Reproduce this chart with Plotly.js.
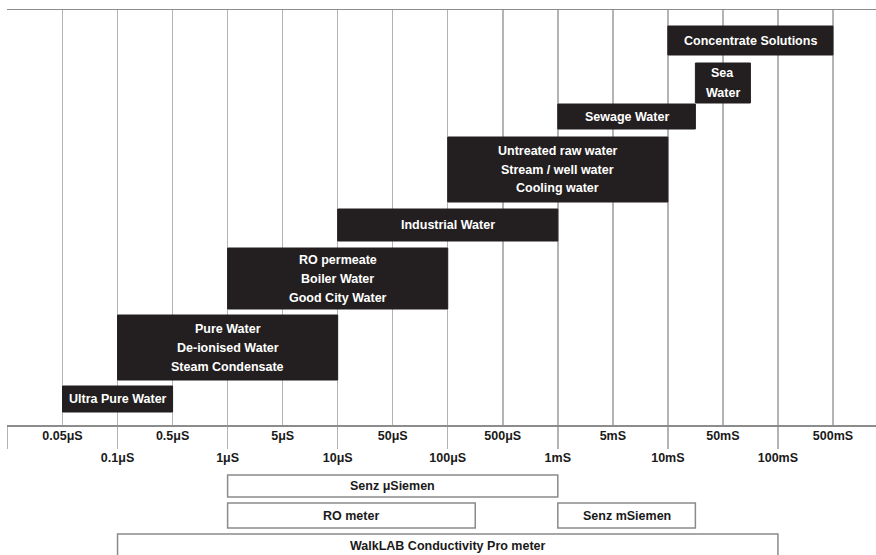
<!DOCTYPE html>
<html>
<head>
<meta charset="utf-8">
<script src="https://cdn.plot.ly/plotly-3.0.1.min.js"></script>
<style>
html,body{margin:0;padding:0;background:#fff;}
#chart{width:876px;height:555px;}
</style>
</head>
<body>
<div id="chart"></div>
<script>
// Conductivity scale: evenly spaced tick positions (axis units = tick index)
const tickLabels = ['', '0.05μS', '0.1μS', '0.5μS', '1μS', '5μS', '10μS', '50μS', '100μS',
                    '500μS', '1mS', '5mS', '10mS', '50mS', '100mS', '500mS'];

// Water types and their conductivity spans (in tick-index units)
const waterTypes = [
  'Ultra Pure Water',
  'Pure Water<br>De-ionised Water<br>Steam Condensate',
  'RO permeate<br>Boiler Water<br>Good City Water',
  'Industrial Water',
  'Untreated raw water<br>Stream / well water<br>Cooling water',
  'Sewage Water',
  'Sea<br>Water',
  'Concentrate Solutions'
];
const waterFrom = [1, 2, 4, 6, 8, 10, 12.5, 12];
const waterTo   = [3, 6, 8, 10, 12, 12.5, 13.5, 15];

// Meters and their measuring spans (tick-index units)
const meters    = ['Senz μSiemen', 'RO meter', 'Senz mSiemen', 'WalkLAB Conductivity Pro meter'];
const meterFrom = [4, 4, 10, 2];
const meterTo   = [10, 8.5, 12.5, 14];

// ---- layout (pixel rows, not data) ----
const waterRows = [[386, 412], [315, 380], [248, 309], [209, 241], [137, 202], [104, 129], [63, 103], [26, 55]];
const meterRows = [[475, 497], [503, 528], [503, 528], [534, 575]];

const W = 876, H = 555, T = 10, B = 130, L = 7;
const plotH = H - T - B;
const py = Y => (H - B - Y) / plotH;
const LINE = 19;

const FONT = 'Liberation Sans, Arial, sans-serif';
const FS = 12.5;
const GRID = '#b4b4b4';
const BOX = '#231f20';

const idx = tickLabels.map((_, i) => i);
const lowerVals = idx.filter(i => i % 2 === 0);
const upperVals = idx.filter(i => i % 2 === 1);

const shapes = [];
const annotations = [];

function addLabel(text, xc, yc, color) {
  const lines = text.split('<br>');
  lines.forEach((ln, k) => {
    const yy = yc + (k - (lines.length - 1) / 2) * LINE;
    annotations.push({xref: 'x', yref: 'paper', x: xc, y: py(yy), text: ln,
      showarrow: false, xanchor: 'center', yanchor: 'middle',
      font: {family: FONT, size: FS, color: color, weight: 'bold'}});
  });
}

waterTypes.forEach((name, i) => {
  const [y0, y1] = waterRows[i];
  shapes.push({type: 'rect', xref: 'x', yref: 'paper', x0: waterFrom[i], x1: waterTo[i],
    y0: py(y1), y1: py(y0), fillcolor: BOX, line: {color: BOX, width: 1}, layer: 'above'});
  addLabel(name, (waterFrom[i] + waterTo[i]) / 2, (y0 + y1) / 2, '#ffffff');
});

meters.forEach((name, i) => {
  const [y0, y1] = meterRows[i];
  shapes.push({type: 'rect', xref: 'x', yref: 'paper', x0: meterFrom[i], x1: meterTo[i],
    y0: py(y1), y1: py(y0), fillcolor: 'rgba(0,0,0,0)', line: {color: '#8a8a8a', width: 1.5}});
  const ty = i === 3 ? 546 : (y0 + y1) / 2;
  addLabel(name, (meterFrom[i] + meterTo[i]) / 2, ty, '#1a1a1a');
});

const r0 = -0.5 / 55.03;
const r1 = r0 + (W - L) / 55.03;

const traces = [
  {x: [0, 15], y: [0.5, 0.5], mode: 'markers', marker: {opacity: 0}, hoverinfo: 'skip', showlegend: false, xaxis: 'x', yaxis: 'y'},
  {x: [0, 15], y: [0.5, 0.5], mode: 'markers', marker: {opacity: 0}, hoverinfo: 'skip', showlegend: false, xaxis: 'x2', yaxis: 'y'}
];

const layout = {
  width: W, height: H,
  margin: {l: L, r: 0, t: T, b: B, pad: 0},
  paper_bgcolor: '#ffffff', plot_bgcolor: '#ffffff',
  showlegend: false,
  xaxis: {
    range: [r0, r1], tickmode: 'array', tickvals: lowerVals,
    ticktext: lowerVals.map(i => tickLabels[i]),
    ticks: 'outside', ticklen: 22, tickwidth: 1.5, tickcolor: GRID, ticklabelstandoff: -2,
    showgrid: true, gridcolor: GRID, gridwidth: 1.5, zeroline: false,
    showline: true, linecolor: '#8c8c8c', linewidth: 1.5, mirror: true,
    tickfont: {family: FONT, size: FS, color: '#1a1a1a', weight: 'bold'},
    fixedrange: true
  },
  xaxis2: {
    overlaying: 'x', matches: 'x', range: [r0, r1], anchor: 'y', side: 'bottom',
    tickmode: 'array', tickvals: upperVals,
    ticktext: upperVals.map(i => tickLabels[i]),
    ticks: '', showgrid: true, gridcolor: GRID, gridwidth: 1.5, zeroline: false, showline: false,
    ticklabelstandoff: 1,
    tickfont: {family: FONT, size: FS, color: '#1a1a1a', weight: 'bold'},
    fixedrange: true
  },
  yaxis: {range: [0, 1], visible: false, fixedrange: true},
  shapes: shapes,
  annotations: annotations
};

Plotly.newPlot('chart', traces, layout, {displayModeBar: false, staticPlot: true});
</script>
</body>
</html>
